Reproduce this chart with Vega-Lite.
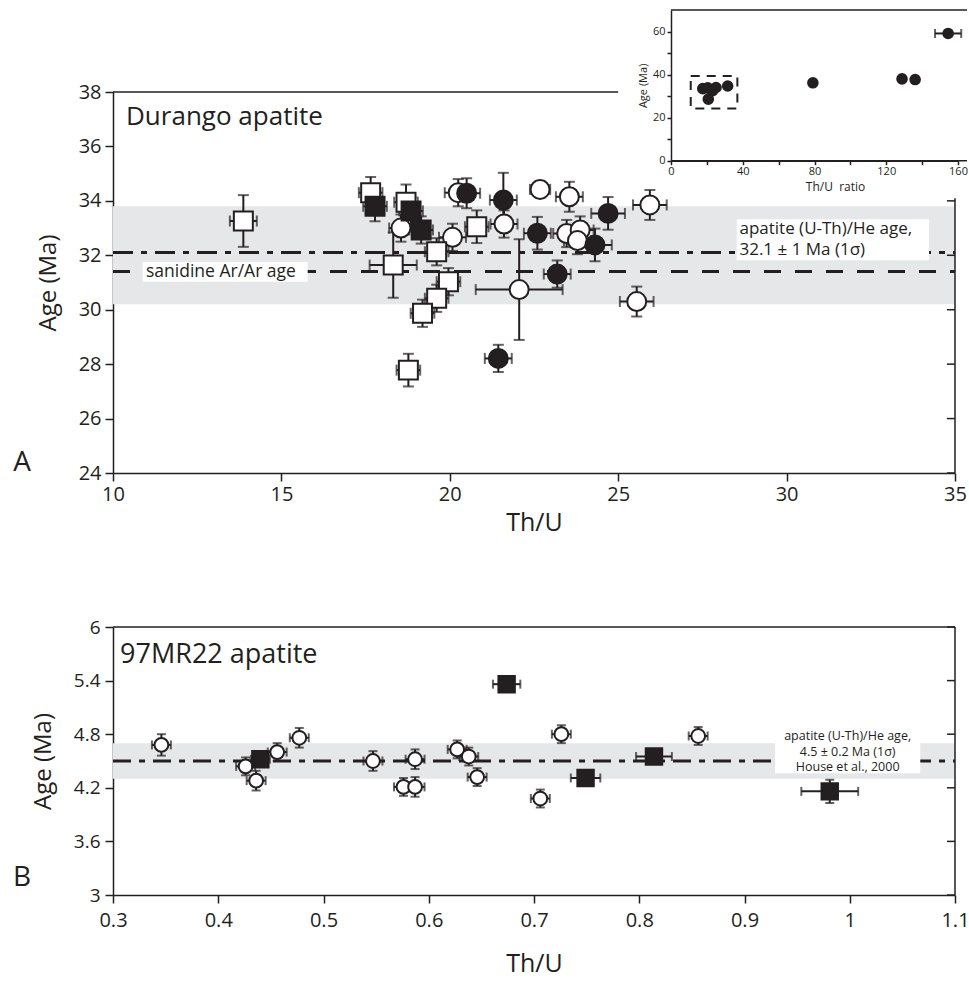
{
 "$schema": "https://vega.github.io/schema/vega-lite/v6.json",
 "background": "white",
 "padding": {"left": 12, "top": 9, "right": 0, "bottom": 2},
 "spacing": 83,
 "datasets": {
  "ptsA": [
   {"x":13.87,"y":33.26,"xerr":0.4,"yerr":0.95,"s":"S1"},
   {"x":17.65,"y":34.3,"xerr":0.35,"yerr":0.58,"s":"S1"},
   {"x":18.7,"y":33.95,"xerr":0.35,"yerr":0.65,"s":"S1"},
   {"x":17.78,"y":33.8,"xerr":0.35,"yerr":0.55,"s":"S2"},
   {"x":18.55,"y":33.0,"xerr":0.35,"yerr":0.5,"s":"S3"},
   {"x":18.85,"y":33.63,"xerr":0.35,"yerr":0.5,"s":"S2"},
   {"x":19.15,"y":32.93,"xerr":0.35,"yerr":0.5,"s":"S2"},
   {"x":18.32,"y":31.64,"xerr":0.7,"yerr":1.2,"s":"S1"},
   {"x":20.08,"y":32.66,"xerr":0.4,"yerr":0.5,"s":"S3"},
   {"x":19.61,"y":32.13,"xerr":0.35,"yerr":0.5,"s":"S1"},
   {"x":19.96,"y":31.03,"xerr":0.35,"yerr":0.5,"s":"S1"},
   {"x":19.61,"y":30.42,"xerr":0.35,"yerr":0.5,"s":"S1"},
   {"x":19.19,"y":29.87,"xerr":0.35,"yerr":0.5,"s":"S1"},
   {"x":18.77,"y":27.78,"xerr":0.35,"yerr":0.6,"s":"S1"},
   {"x":20.8,"y":33.05,"xerr":0.35,"yerr":0.6,"s":"S1"},
   {"x":20.25,"y":34.3,"xerr":0.4,"yerr":0.5,"s":"S3"},
   {"x":20.5,"y":34.28,"xerr":0.4,"yerr":0.55,"s":"S4"},
   {"x":21.59,"y":34.03,"xerr":0.4,"yerr":1.0,"s":"S4"},
   {"x":21.61,"y":33.15,"xerr":0.4,"yerr":0.5,"s":"S3"},
   {"x":22.68,"y":34.42,"xerr":0.3,"yerr":0.3,"s":"S3"},
   {"x":22.6,"y":32.81,"xerr":0.4,"yerr":0.6,"s":"S4"},
   {"x":22.06,"y":30.74,"xerr":1.29,"yerr":1.85,"s":"S3"},
   {"x":21.44,"y":28.21,"xerr":0.4,"yerr":0.5,"s":"S4"},
   {"x":23.19,"y":31.31,"xerr":0.4,"yerr":0.5,"s":"S4"},
   {"x":23.55,"y":34.15,"xerr":0.4,"yerr":0.55,"s":"S3"},
   {"x":23.47,"y":32.8,"xerr":0.4,"yerr":0.5,"s":"S3"},
   {"x":23.87,"y":32.93,"xerr":0.4,"yerr":0.5,"s":"S3"},
   {"x":23.79,"y":32.54,"xerr":0.4,"yerr":0.5,"s":"S3"},
   {"x":24.31,"y":32.38,"xerr":0.5,"yerr":0.6,"s":"S4"},
   {"x":24.7,"y":33.54,"xerr":0.5,"yerr":0.6,"s":"S4"},
   {"x":25.55,"y":30.3,"xerr":0.5,"yerr":0.55,"s":"S3"},
   {"x":25.94,"y":33.85,"xerr":0.5,"yerr":0.55,"s":"S3"}
  ],
  "ptsB": [
   {"x":0.346,"y":4.68,"xerr":0.009,"yerr":0.12,"s":"S3"},
   {"x":0.426,"y":4.44,"xerr":0.009,"yerr":0.1,"s":"S3"},
   {"x":0.436,"y":4.28,"xerr":0.009,"yerr":0.11,"s":"S3"},
   {"x":0.44,"y":4.52,"xerr":0.009,"yerr":0.08,"s":"S2"},
   {"x":0.456,"y":4.6,"xerr":0.009,"yerr":0.1,"s":"S3"},
   {"x":0.477,"y":4.76,"xerr":0.009,"yerr":0.11,"s":"S3"},
   {"x":0.547,"y":4.5,"xerr":0.009,"yerr":0.11,"s":"S3"},
   {"x":0.576,"y":4.21,"xerr":0.009,"yerr":0.1,"s":"S3"},
   {"x":0.587,"y":4.21,"xerr":0.009,"yerr":0.11,"s":"S3"},
   {"x":0.587,"y":4.52,"xerr":0.009,"yerr":0.11,"s":"S3"},
   {"x":0.627,"y":4.63,"xerr":0.009,"yerr":0.1,"s":"S3"},
   {"x":0.638,"y":4.55,"xerr":0.009,"yerr":0.1,"s":"S3"},
   {"x":0.646,"y":4.32,"xerr":0.009,"yerr":0.1,"s":"S3"},
   {"x":0.674,"y":5.36,"xerr":0.013,"yerr":0.08,"s":"S2"},
   {"x":0.706,"y":4.08,"xerr":0.009,"yerr":0.1,"s":"S3"},
   {"x":0.726,"y":4.8,"xerr":0.009,"yerr":0.1,"s":"S3"},
   {"x":0.749,"y":4.31,"xerr":0.014,"yerr":0.08,"s":"S2"},
   {"x":0.814,"y":4.55,"xerr":0.017,"yerr":0.08,"s":"S2"},
   {"x":0.856,"y":4.78,"xerr":0.009,"yerr":0.1,"s":"S3"},
   {"x":0.981,"y":4.16,"xerr":0.027,"yerr":0.13,"s":"S2"}
  ],
  "inset": [
   {"x":17.7,"y":33.5,"xerr":0},
   {"x":20.5,"y":33.8,"xerr":0},
   {"x":23.2,"y":32.5,"xerr":0},
   {"x":25.1,"y":34.0,"xerr":0},
   {"x":20.8,"y":28.6,"xerr":0},
   {"x":31.6,"y":34.7,"xerr":0},
   {"x":79.1,"y":36.2,"xerr":0},
   {"x":128.8,"y":38.0,"xerr":0},
   {"x":136.1,"y":37.7,"xerr":0},
   {"x":154.5,"y":59.1,"xerr":7.3}
  ],
  "ticksA": [{"v":24},{"v":26},{"v":28},{"v":30},{"v":32},{"v":34}],
  "ticksB": [{"v":3},{"v":3.6},{"v":4.2},{"v":4.8},{"v":5.4},{"v":6}]
 },
 "vconcat": [
  {
   "width": 842,
   "height": 381,
   "layer": [
    {
     "layer": [
      {"data":{"values":[{}]},"mark":{"type":"rect","color":"#e6e7e8"},
       "encoding":{
        "x":{"datum":10,"type":"quantitative","title":"Th/U","scale":{"domain":[10,35],"nice":false,"zero":false},
             "axis":{"orient":"bottom","values":[10,15,20,25,30,35],"tickSize":8,"labelFontSize":20,"labelPadding":3,"titleFontSize":25,"titlePadding":6}},
        "x2":{"datum":35},
        "y":{"datum":30.2,"type":"quantitative","title":"Age (Ma)","scale":{"domain":[24,38],"nice":false,"zero":false},
             "axis":{"orient":"left","values":[24,26,28,30,32,34,36,38],"tickSize":8,"labelFontSize":20,"labelPadding":4,"titleFontSize":24,"titlePadding":18}},
        "y2":{"datum":33.8}}},
      {"data":{"values":[{}]},"mark":{"type":"rule","color":"#231f20","strokeWidth":3,"strokeDash":[20,8,6,8]},
       "encoding":{"x":{"datum":10,"type":"quantitative","title":"Th/U"},"x2":{"datum":35},"y":{"datum":32.1,"type":"quantitative","title":"Age (Ma)"}}},
      {"data":{"values":[{}]},"mark":{"type":"rule","color":"#231f20","strokeWidth":3,"strokeDash":[17,14]},
       "encoding":{"x":{"datum":10,"type":"quantitative","title":"Th/U"},"x2":{"datum":35},"y":{"datum":31.4,"type":"quantitative","title":"Age (Ma)"}}},
      {"data":{"values":[{}]},"mark":{"type":"rect","color":"white"},
       "encoding":{"x":{"datum":10.88,"type":"quantitative","title":"Th/U"},"x2":{"datum":15.78},"y":{"datum":31.03,"type":"quantitative","title":"Age (Ma)"},"y2":{"datum":31.75}}},
      {"data":{"values":[{}]},"mark":{"type":"text","text":"sanidine Ar/Ar age","align":"left","baseline":"middle","fontSize":17.5,"color":"#231f20"},
       "encoding":{"x":{"datum":10.98,"type":"quantitative","title":"Th/U"},"y":{"datum":31.39,"type":"quantitative","title":"Age (Ma)"}}},
      {"data":{"values":[{}]},"mark":{"type":"rect","color":"white"},
       "encoding":{"x":{"datum":28.52,"type":"quantitative","title":"Th/U"},"x2":{"datum":34.23},"y":{"datum":31.82,"type":"quantitative","title":"Age (Ma)"},"y2":{"datum":33.32}}},
      {"data":{"values":[{}]},"mark":{"type":"text","text":["apatite (U-Th)/He age,","32.1 ± 1 Ma (1σ)"],"align":"left","baseline":"middle","fontSize":17,"lineHeight":21.5,"color":"#231f20"},
       "encoding":{"x":{"datum":28.6,"type":"quantitative","title":"Th/U"},"y":{"datum":32.98,"type":"quantitative","title":"Age (Ma)"}}},
      {"data":{"values":[{}]},"mark":{"type":"text","text":"Durango apatite","align":"left","baseline":"alphabetic","fontSize":26,"color":"#231f20"},
       "encoding":{"x":{"datum":10.386,"type":"quantitative","title":"Th/U"},"y":{"datum":36.79,"type":"quantitative","title":"Age (Ma)"}}},
      {"data":{"values":[{}]},"mark":{"type":"text","text":"A","align":"center","baseline":"middle","fontSize":28,"color":"#231f20"},
       "encoding":{"x":{"datum":7.3,"type":"quantitative","title":"Th/U"},"y":{"datum":24.37,"type":"quantitative","title":"Age (Ma)"}}},
      {"data":{"values":[{}]},"mark":{"type":"rule","color":"#231f20","strokeWidth":1.5},
       "encoding":{"x":{"datum":10,"type":"quantitative","title":"Th/U"},"x2":{"datum":25},"y":{"datum":38,"type":"quantitative","title":"Age (Ma)"}}},
      {"data":{"values":[{}]},"mark":{"type":"rule","color":"#231f20","strokeWidth":1.5},
       "encoding":{"x":{"datum":35,"type":"quantitative","title":"Th/U"},"y":{"datum":24,"type":"quantitative","title":"Age (Ma)"},"y2":{"datum":34.1}}},
      {"data":{"name":"ticksA"},"mark":{"type":"rule","color":"#231f20","strokeWidth":1.5},
       "encoding":{"x":{"datum":34.76,"type":"quantitative","title":"Th/U"},"x2":{"datum":35},"y":{"field":"v","type":"quantitative","title":"Age (Ma)"}}},
      {"data":{"name":"ptsA"},"mark":{"type":"errorbar","color":"#231f20","thickness":2,"ticks":{"size":11,"thickness":2}},
       "encoding":{"x":{"field":"x","type":"quantitative","title":"Th/U"},"y":{"field":"y","type":"quantitative","title":"Age (Ma)"},"yError":{"field":"yerr"}}},
      {"data":{"name":"ptsA"},"mark":{"type":"errorbar","color":"#231f20","thickness":2,"ticks":{"size":11,"thickness":2}},
       "encoding":{"y":{"field":"y","type":"quantitative","title":"Age (Ma)"},"x":{"field":"x","type":"quantitative","title":"Th/U"},"xError":{"field":"xerr"}}},
      {"data":{"name":"ptsA"},"mark":{"type":"point","filled":true,"stroke":"#231f20","strokeWidth":2,"size":360,"opacity":1},
       "encoding":{
        "x":{"field":"x","type":"quantitative","title":"Th/U"},
        "y":{"field":"y","type":"quantitative","title":"Age (Ma)"},
        "shape":{"field":"s","type":"nominal","scale":{"domain":["S1","S2","S3","S4"],"range":["square","square","circle","circle"]},"legend":null},
        "fill":{"field":"s","type":"nominal","scale":{"domain":["S1","S2","S3","S4"],"range":["white","#231f20","white","#231f20"]},"legend":null}
       }}
     ]
    },
    {
     "layer": [
      {"data":{"values":[{}]},"mark":{"type":"rect","fill":"transparent","stroke":"#231f20","strokeWidth":2,"strokeDash":[9,7]},
       "encoding":{
        "x":{"datum":11,"type":"quantitative","title":"Th/U\u00a0 ratio","scale":{"domain":[0,160],"range":[558,845],"nice":false,"zero":false},
             "axis":{"orient":"bottom","offset":-312.3,"values":[0,20,40,60,80,100,120,140,160],"labelExpr":"datum.value % 40 === 0 ? datum.label : ''","tickSize":4,"labelFontSize":11,"labelPadding":1,"titleFontSize":12,"titlePadding":5,"titleX":722}},
        "x2":{"datum":37},
        "y":{"datum":24.3,"type":"quantitative","title":"Age (Ma)","scale":{"domain":[0,70],"range":[68.7,-82],"nice":false,"zero":false},
             "axis":{"orient":"left","offset":-558,"values":[0,10,20,30,40,50,60],"labelExpr":"datum.value % 20 === 0 ? datum.label : ''","tickSize":4,"labelFontSize":11,"labelPadding":2,"titleFontSize":11,"titlePadding":4}},
        "y2":{"datum":39.3}}},
      {"data":{"values":[{}]},"mark":{"type":"rule","color":"#231f20","strokeWidth":1.5},
       "encoding":{"x":{"datum":0,"type":"quantitative","title":"Th/U\u00a0 ratio"},"x2":{"datum":165},"y":{"datum":70,"type":"quantitative","title":"Age (Ma)"}}},
      {"data":{"values":[{}]},"mark":{"type":"rule","color":"#231f20","strokeWidth":1.5},
       "encoding":{"x":{"datum":0,"type":"quantitative","title":"Th/U\u00a0 ratio"},"x2":{"datum":165},"y":{"datum":0,"type":"quantitative","title":"Age (Ma)"}}},
      {"data":{"name":"inset"},"transform":[{"filter":"datum.xerr > 0"}],"mark":{"type":"errorbar","color":"#231f20","thickness":2,"ticks":{"size":9,"thickness":2}},
       "encoding":{"y":{"field":"y","type":"quantitative","title":"Age (Ma)"},"x":{"field":"x","type":"quantitative","title":"Th/U\u00a0 ratio"},"xError":{"field":"xerr"}}},
      {"data":{"name":"inset"},"mark":{"type":"circle","color":"#231f20","size":135,"opacity":1},
       "encoding":{"x":{"field":"x","type":"quantitative","title":"Th/U\u00a0 ratio"},"y":{"field":"y","type":"quantitative","title":"Age (Ma)"}}}
     ]
    }
   ],
   "resolve": {"scale": {"x": "independent", "y": "independent"}}
  },
  {
   "width": 842,
   "height": 268,
   "layer": [
    {"data":{"values":[{}]},"mark":{"type":"rect","color":"#e6e7e8"},
     "encoding":{
      "x":{"datum":0.3,"type":"quantitative","title":"Th/U","scale":{"domain":[0.3,1.1],"nice":false,"zero":false},
           "axis":{"orient":"bottom","values":[0.3,0.4,0.5,0.6,0.7,0.8,0.9,1,1.1],"format":"~g","tickSize":8,"labelFontSize":20,"labelPadding":7,"titleFontSize":25,"titlePadding":21}},
      "x2":{"datum":1.1},
      "y":{"datum":4.3,"type":"quantitative","title":"Age (Ma)","scale":{"domain":[3,6],"nice":false,"zero":false},
           "axis":{"orient":"left","values":[3,3.6,4.2,4.8,5.4,6],"format":"~g","tickSize":8,"labelFontSize":19,"labelPadding":5,"titleFontSize":24,"titlePadding":18}},
      "y2":{"datum":4.7}}},
    {"data":{"values":[{}]},"mark":{"type":"rule","color":"#231f20","strokeWidth":3,"strokeDash":[18,8,6,8]},
     "encoding":{"x":{"datum":0.3,"type":"quantitative","title":"Th/U"},"x2":{"datum":1.1},"y":{"datum":4.5,"type":"quantitative","title":"Age (Ma)"}}},
    {"data":{"values":[{}]},"mark":{"type":"rect","color":"white"},
     "encoding":{"x":{"datum":0.929,"type":"quantitative","title":"Th/U"},"x2":{"datum":1.067},"y":{"datum":4.362,"type":"quantitative","title":"Age (Ma)"},"y2":{"datum":4.869}}},
    {"data":{"values":[{}]},"mark":{"type":"text","text":["apatite (U-Th)/He age,","4.5 ± 0.2 Ma (1σ)","House et al., 2000"],"align":"center","baseline":"middle","fontSize":12.5,"lineHeight":15.5,"color":"#231f20"},
     "encoding":{"x":{"datum":0.998,"type":"quantitative","title":"Th/U"},"y":{"datum":4.776,"type":"quantitative","title":"Age (Ma)"}}},
    {"data":{"values":[{}]},"mark":{"type":"text","text":"97MR22 apatite","align":"left","baseline":"alphabetic","fontSize":27,"color":"#231f20"},
     "encoding":{"x":{"datum":0.3067,"type":"quantitative","title":"Th/U"},"y":{"datum":5.597,"type":"quantitative","title":"Age (Ma)"}}},
    {"data":{"values":[{}]},"mark":{"type":"text","text":"B","align":"center","baseline":"middle","fontSize":28,"color":"#231f20"},
     "encoding":{"x":{"datum":0.2135,"type":"quantitative","title":"Th/U"},"y":{"datum":3.19,"type":"quantitative","title":"Age (Ma)"}}},
    {"data":{"values":[{}]},"mark":{"type":"rule","color":"#231f20","strokeWidth":1.5},
     "encoding":{"x":{"datum":0.3,"type":"quantitative","title":"Th/U"},"x2":{"datum":1.1},"y":{"datum":6,"type":"quantitative","title":"Age (Ma)"}}},
    {"data":{"values":[{}]},"mark":{"type":"rule","color":"#231f20","strokeWidth":1.5},
     "encoding":{"x":{"datum":1.1,"type":"quantitative","title":"Th/U"},"y":{"datum":3,"type":"quantitative","title":"Age (Ma)"},"y2":{"datum":6}}},
    {"data":{"name":"ticksB"},"mark":{"type":"rule","color":"#231f20","strokeWidth":1.5},
     "encoding":{"x":{"datum":1.0924,"type":"quantitative","title":"Th/U"},"x2":{"datum":1.1},"y":{"field":"v","type":"quantitative","title":"Age (Ma)"}}},
    {"data":{"name":"ptsB"},"mark":{"type":"errorbar","color":"#231f20","thickness":2,"ticks":{"size":9,"thickness":2}},
     "encoding":{"x":{"field":"x","type":"quantitative","title":"Th/U"},"y":{"field":"y","type":"quantitative","title":"Age (Ma)"},"yError":{"field":"yerr"}}},
    {"data":{"name":"ptsB"},"mark":{"type":"errorbar","color":"#231f20","thickness":2,"ticks":{"size":9,"thickness":2}},
     "encoding":{"y":{"field":"y","type":"quantitative","title":"Age (Ma)"},"x":{"field":"x","type":"quantitative","title":"Th/U"},"xError":{"field":"xerr"}}},
    {"data":{"name":"ptsB"},"transform":[{"filter":"datum.s === 'S3'"}],"mark":{"type":"point","shape":"circle","filled":true,"fill":"white","stroke":"#231f20","strokeWidth":2,"size":190,"opacity":1},
     "encoding":{"x":{"field":"x","type":"quantitative","title":"Th/U"},"y":{"field":"y","type":"quantitative","title":"Age (Ma)"}}},
    {"data":{"name":"ptsB"},"transform":[{"filter":"datum.s === 'S2'"}],"mark":{"type":"point","shape":"square","filled":true,"fill":"#231f20","stroke":"#231f20","strokeWidth":2,"size":270,"opacity":1},
     "encoding":{"x":{"field":"x","type":"quantitative","title":"Th/U"},"y":{"field":"y","type":"quantitative","title":"Age (Ma)"}}}
   ]
  }
 ],
 "config": {
  "view": {"stroke": null},
  "font": "Open Sans",
  "axis": {"grid": false, "domainColor": "#231f20", "tickColor": "#231f20", "labelColor": "#231f20", "titleColor": "#231f20", "domainWidth": 1.5, "tickWidth": 1.5, "titleFontWeight": "normal", "labelFlush": false, "labelOverlap": false, "labelFont": "Open Sans", "titleFont": "Open Sans"}
 }
}
